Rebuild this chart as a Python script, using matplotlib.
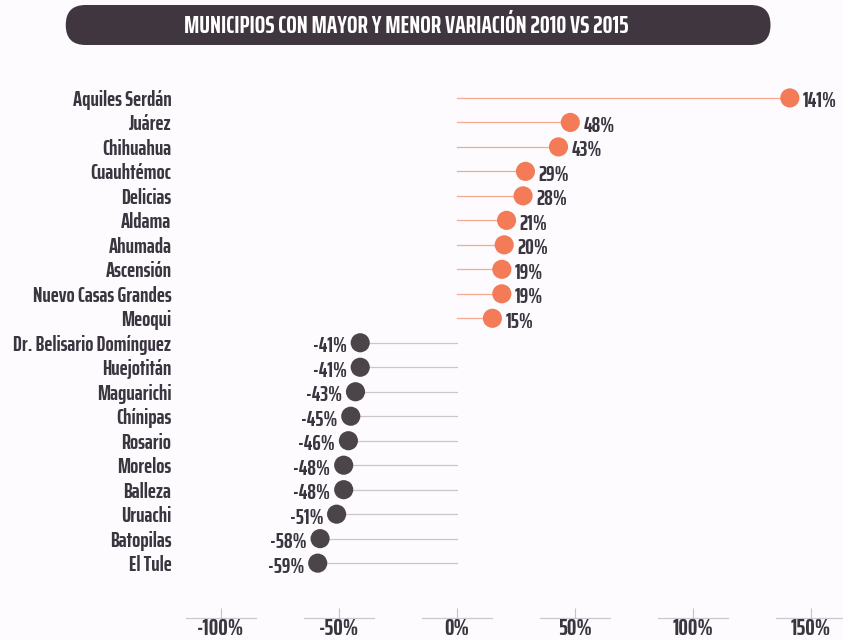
import matplotlib.pyplot as plt
from matplotlib.patches import FancyBboxPatch

# datos
municipios = ['Aquiles Serdán', 'Juárez', 'Chihuahua', 'Cuauhtémoc', 'Delicias',
              'Aldama', 'Ahumada', 'Ascensión', 'Nuevo Casas Grandes', 'Meoqui',
              'Dr. Belisario Domínguez', 'Huejotitán', 'Maguarichi', 'Chínipas',
              'Rosario', 'Morelos', 'Balleza', 'Uruachi', 'Batopilas', 'El Tule']
variacion = [141, 48, 43, 29, 28, 21, 20, 19, 19, 15,
             -41, -41, -43, -45, -46, -48, -48, -51, -58, -59]
ticks = [-100, -50, 0, 50, 100, 150]
titulo = 'MUNICIPIOS CON MAYOR Y MENOR VARIACIÓN 2010 VS 2015'

FUENTE = ['Saira ExtraCondensed', 'DejaVu Sans']
TEXTO = '#3b3540'
NARANJA = '#f37b58'
GRIS = '#4b4549'
FONDO = '#fdfbfd'

plt.rcParams['font.family'] = FUENTE
plt.rcParams['font.weight'] = 'bold'

fig = plt.figure(figsize=(8.43, 6.40), dpi=100, facecolor=FONDO)
ax = fig.add_axes([0.21, 0.0344, 0.7877, 0.8562], facecolor=FONDO)

y = list(range(len(municipios)))
colores = [NARANJA if v > 0 else GRIS for v in variacion]
lineas = ['#f6a98f' if v > 0 else '#cdc4cd' for v in variacion]

# tallos
for yi, v, c in zip(y, variacion, lineas):
    ax.plot([0, v], [yi, yi], color=c, lw=0.9, zorder=1)

# puntos
ax.scatter(variacion, y, s=190, c=colores, zorder=3, linewidths=0)

# etiquetas de valor
for yi, v in zip(y, variacion):
    if v > 0:
        ax.annotate(f'{v}%', (v, yi), xytext=(9.5, -1), textcoords='offset points',
                    ha='left', va='center_baseline', fontsize=15.5, color=TEXTO)
    else:
        ax.annotate(f'{v}%', (v, yi), xytext=(-9.5, -1), textcoords='offset points',
                    ha='right', va='center_baseline', fontsize=15.5, color=TEXTO)

ax.set_xlim(-118.6, 162.7)
ax.set_ylim(21.24, -1.14)

ax.set_yticks(y)
ax.set_yticklabels(municipios, fontsize=15.5, color=TEXTO)
ax.tick_params(axis='y', length=0, pad=4)

ax.set_xticks(ticks)
ax.set_xticklabels([f'{t}%' for t in ticks], fontsize=17, color=TEXTO)
ax.tick_params(axis='x', direction='in', length=7, width=0.8, color='#c8c0c8', pad=0)

for s in ax.spines.values():
    s.set_visible(False)

# trozos de eje bajo cada marca
for t in ticks:
    ax.plot([t - 15, t + 15], [21.24, 21.24], color='#cfc7cf', lw=0.9,
            clip_on=False, zorder=1)

# banda del titulo
banda = FancyBboxPatch((0.078, 0.9297), 0.836, 0.0625,
                       boxstyle='round,pad=0,rounding_size=0.0235',
                       transform=fig.transFigure, facecolor='#40363f',
                       edgecolor='none', mutation_aspect=843 / 640)
fig.patches.append(banda)
fig.text(0.482, 0.96, titulo, ha='center', va='center', fontsize=18,
         color='white')

fig.savefig('out.png', dpi=100, facecolor=FONDO)
